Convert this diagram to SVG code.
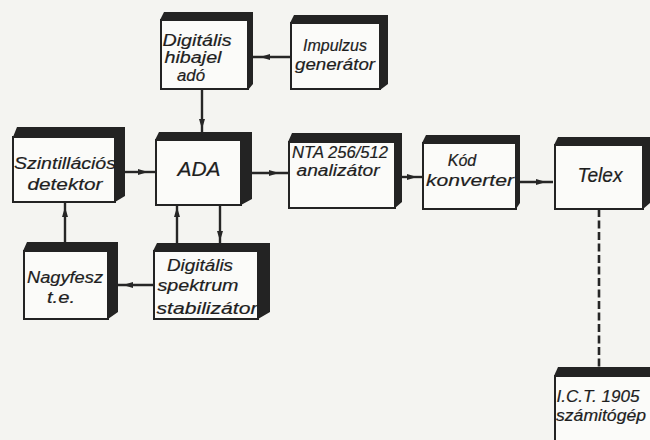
<svg xmlns="http://www.w3.org/2000/svg" width="650" height="440" viewBox="0 0 650 440">
<defs>
<style>
.bg{fill:#f4f4f1}
.side{fill:#232323}
.face{fill:#fbfbf9;stroke:#232323;stroke-width:2}
.t{font-family:"Liberation Sans",Arial,sans-serif;font-style:italic;font-size:16px;fill:#1e1e1e;stroke:#1e1e1e;stroke-width:0.2;text-anchor:middle}
.big{font-size:20px}
.c{fill:none;stroke:#262626;stroke-width:2.4}
.d{fill:none;stroke:#262626;stroke-width:2.6;stroke-dasharray:8 3.5}
</style>
<marker id="ah" viewBox="0 0 10 6" refX="7" refY="3" markerWidth="10" markerHeight="6" markerUnits="userSpaceOnUse" orient="auto">
<path d="M0,0 L10,3 L0,6 Z" fill="#262626"/>
</marker>
</defs>
<rect class="bg" x="0" y="0" width="650" height="440"/>

<g id="connectors">
<path class="c" d="M290,57 L263,57 L252,57" marker-mid="url(#ah)"/>
<path class="c" d="M202,90 L202,126 L202,132" marker-mid="url(#ah)"/>
<path class="c" d="M124,172 L145,172 L155,172" marker-mid="url(#ah)"/>
<path class="c" d="M252,173 L276,173 L288,173" marker-mid="url(#ah)"/>
<path class="c" d="M400,177 L414,177 L422,177" marker-mid="url(#ah)"/>
<path class="c" d="M520,182 L543,182 L553,182" marker-mid="url(#ah)"/>
<path class="c" d="M65,242 L65,210 L65,202" marker-mid="url(#ah)"/>
<path class="c" d="M177,244 L177,210 L177,205" marker-mid="url(#ah)"/>
<path class="c" d="M220,205 L220,238 L220,244" marker-mid="url(#ah)"/>
<path class="c" d="M154,285 L126,285 L117,285" marker-mid="url(#ah)"/>
<path class="d" d="M599,209 L599,368"/>
</g>

<g id="hibajel">
<polygon class="side" points="160,20 164,12 253,12 253,84 248,90 248,20"/>
<rect class="face" x="161" y="20" width="87" height="69"/>
<text class="t" x="197" y="46" textLength="69" lengthAdjust="spacingAndGlyphs">Digitális</text>
<text class="t" x="193" y="63" textLength="57" lengthAdjust="spacingAndGlyphs">hibajel</text>
<text class="t" x="191" y="81" textLength="28" lengthAdjust="spacingAndGlyphs">adó</text>
</g>

<g id="impulzus">
<polygon class="side" points="290,23 294,15 388,15 388,84 380,90 380,23"/>
<rect class="face" x="291" y="23" width="89" height="66"/>
<text class="t" x="335" y="51" textLength="64" lengthAdjust="spacingAndGlyphs">Impulzus</text>
<text class="t" x="335" y="70" textLength="80" lengthAdjust="spacingAndGlyphs">generátor</text>
</g>

<g id="szint">
<polygon class="side" points="13,137 17,127 125,127 125,196 115,202 115,137"/>
<rect class="face" x="13" y="137" width="102" height="65"/>
<text class="t" x="65" y="169" textLength="102" lengthAdjust="spacingAndGlyphs">Szintillációs</text>
<text class="t" x="65" y="190" textLength="75" lengthAdjust="spacingAndGlyphs">detektor</text>
</g>

<g id="ada">
<polygon class="side" points="155,140 159,132 252,132 252,199 241,205 241,140"/>
<rect class="face" x="156" y="140" width="85" height="65"/>
<text class="t big" x="199" y="176" textLength="43" lengthAdjust="spacingAndGlyphs">ADA</text>
</g>

<g id="nta">
<polygon class="side" points="288,142 292,133 402,133 402,202 395,208 395,142"/>
<rect class="face" x="289" y="142" width="106" height="66"/>
<text class="t" x="340" y="158" textLength="96" lengthAdjust="spacingAndGlyphs">NTA 256/512</text>
<text class="t" x="338" y="176" textLength="83" lengthAdjust="spacingAndGlyphs">analizátor</text>
</g>

<g id="kod">
<polygon class="side" points="422,143 426,135 520,135 520,203 516,209 516,143"/>
<rect class="face" x="423" y="143" width="93" height="66"/>
<text class="t" x="462" y="166">Kód</text>
<text class="t" x="470" y="186" textLength="88" lengthAdjust="spacingAndGlyphs">konverter</text>
</g>

<g id="telex">
<polygon class="side" points="554,145 558,137 650,137 650,203 643,209 643,145"/>
<rect class="face" x="555" y="145" width="88" height="64"/>
<text class="t big" x="600" y="182" textLength="45" lengthAdjust="spacingAndGlyphs">Telex</text>
</g>

<g id="nagyfesz">
<polygon class="side" points="23,251 27,242 118,242 118,312 108,319 108,251"/>
<rect class="face" x="24" y="251" width="84" height="68"/>
<text class="t" x="65" y="283" textLength="76" lengthAdjust="spacingAndGlyphs">Nagyfesz</text>
<text class="t" x="61" y="303" textLength="28" lengthAdjust="spacingAndGlyphs">t.e.</text>
</g>

<g id="stabilizator">
<polygon class="side" points="153,251 157,243 270,243 270,312 258,319 258,251"/>
<rect class="face" x="154" y="251" width="104" height="68"/>
<text class="t" x="200" y="271" textLength="66" lengthAdjust="spacingAndGlyphs">Digitális</text>
<text class="t" x="198" y="291" textLength="81" lengthAdjust="spacingAndGlyphs">spektrum</text>
<text class="t" x="207" y="314" textLength="101" lengthAdjust="spacingAndGlyphs">stabilizátor</text>
</g>

<g id="ict">
<polygon class="side" points="554,376 558,367 650,367 650,376"/>
<rect class="face" x="555" y="376" width="100" height="70"/>
<text class="t" x="598" y="402" textLength="83" lengthAdjust="spacingAndGlyphs">I.C.T. 1905</text>
<text class="t" x="601" y="421" textLength="90" lengthAdjust="spacingAndGlyphs">számitógép</text>
</g>
</svg>
